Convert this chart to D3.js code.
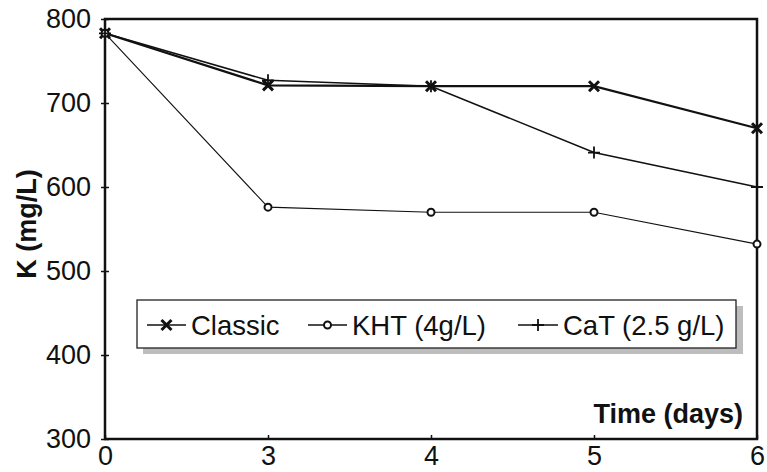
<!DOCTYPE html>
<html>
<head>
<meta charset="utf-8">
<script src="https://cdn.jsdelivr.net/npm/d3@7"></script>
<style>
  body { margin: 0; background: #fff; }
  text { font-family: "Liberation Sans", Arial, sans-serif; fill: #111; }
</style>
</head>
<body>
<svg id="chart"></svg>
<script>
// data
const days = ["0", "3", "4", "5", "6"];
const classic = [783, 721, 720, 720, 670];
const kht = [783, 576, 570, 570, 532];
const cat = [783, 727, 720, 641, 600];
const yTicks = [300, 400, 500, 600, 700, 800];

const series = [
  { name: "Classic", values: classic, marker: "x", width: 2.2 },
  { name: "KHT (4g/L)", values: kht, marker: "o", width: 1.1 },
  { name: "CaT (2.5 g/L)", values: cat, marker: "+", width: 1.5 }
];

const width = 767, height = 472;
const margin = { top: 19, right: 10, bottom: 33, left: 105 };

const svg = d3.select("#chart")
  .attr("width", width)
  .attr("height", height);

const xscale = d3.scalePoint()
  .domain(days)
  .range([margin.left, width - margin.right]);

const yscale = d3.scaleLinear()
  .domain([300, 800])
  .range([height - margin.bottom, margin.top]);

// frame
svg.append("rect")
  .attr("x", margin.left)
  .attr("y", margin.top)
  .attr("width", width - margin.right - margin.left)
  .attr("height", height - margin.bottom - margin.top)
  .attr("fill", "none")
  .attr("stroke", "#111")
  .attr("stroke-width", 2.5);

// axes
const yaxis = d3.axisLeft(yscale).tickValues(yTicks).tickSize(4).tickSizeOuter(0).tickPadding(10);
const yg = svg.append("g")
  .attr("transform", `translate(${margin.left},0)`)
  .call(yaxis);
yg.select(".domain").remove();
yg.selectAll("line").attr("stroke", "#111").attr("stroke-width", 1.5).attr("x2", 4).attr("x1", -4);
yg.selectAll("text")
  .attr("font-size", 27)
  .attr("font-family", "Liberation Sans, Arial, sans-serif")
  .attr("fill", "#111");

const xaxis = d3.axisBottom(xscale).tickSize(4).tickSizeOuter(0).tickPadding(3);
const xg = svg.append("g")
  .attr("transform", `translate(0,${height - margin.bottom})`)
  .call(xaxis);
xg.select(".domain").remove();
xg.selectAll("line").attr("stroke", "#111").attr("stroke-width", 1.5).attr("y1", -4).attr("y2", 0);
xg.selectAll("text")
  .attr("font-size", 27)
  .attr("font-family", "Liberation Sans, Arial, sans-serif")
  .attr("fill", "#111");

// axis titles
svg.append("text")
  .attr("transform", "translate(36,224) rotate(-90)")
  .attr("text-anchor", "middle")
  .attr("font-size", 27)
  .attr("font-weight", "bold")
  .text("K (mg/L)");

svg.append("text")
  .attr("x", 743)
  .attr("y", 423)
  .attr("text-anchor", "end")
  .attr("font-size", 27)
  .attr("font-weight", "bold")
  .text("Time (days)");

// markers
function drawMarker(g, type, x, y) {
  if (type === "x") {
    const s = 5;
    g.append("path")
      .attr("d", `M${x - s},${y - s}L${x + s},${y + s}M${x - s},${y + s}L${x + s},${y - s}`)
      .attr("stroke", "#111").attr("stroke-width", 3).attr("fill", "none");
  } else if (type === "+") {
    const s = 6;
    g.append("path")
      .attr("d", `M${x - s},${y}L${x + s},${y}M${x},${y - s}L${x},${y + s}`)
      .attr("stroke", "#111").attr("stroke-width", 1.8).attr("fill", "none");
  } else {
    g.append("circle")
      .attr("cx", x).attr("cy", y).attr("r", 3.5)
      .attr("fill", "#fff").attr("stroke", "#111").attr("stroke-width", 2);
  }
}

const line = d3.line()
  .x((d, i) => xscale(days[i]))
  .y(d => yscale(d));

const plot = svg.append("g");
series.forEach(s => {
  plot.append("path")
    .datum(s.values)
    .attr("d", line)
    .attr("fill", "none")
    .attr("stroke", "#111")
    .attr("stroke-width", s.width);
});
series.forEach(s => {
  const g = plot.append("g");
  s.values.forEach((v, i) => drawMarker(g, s.marker, xscale(days[i]), yscale(v)));
});

// legend
const legend = svg.append("g");
legend.append("rect")
  .attr("x", 143).attr("y", 306).attr("width", 600).attr("height", 48)
  .attr("fill", "#bdbdbd");
legend.append("rect")
  .attr("x", 137).attr("y", 300).attr("width", 599).attr("height", 48)
  .attr("fill", "#fff").attr("stroke", "#222").attr("stroke-width", 1.3);

const legendX = [147, 308, 518];
const legendText = [191, 352, 563];
const rowY = 325;
series.forEach((s, i) => {
  const x0 = legendX[i];
  const x1 = legendText[i] - 5;
  legend.append("line")
    .attr("x1", x0).attr("x2", x1).attr("y1", rowY).attr("y2", rowY)
    .attr("stroke", "#111").attr("stroke-width", 1.3);
  drawMarker(legend, s.marker, (x0 + x1) / 2, rowY);
  legend.append("text")
    .attr("x", legendText[i])
    .attr("y", rowY + 10)
    .attr("font-size", 27.5)
    .text(s.name);
});
</script>
</body>
</html>
